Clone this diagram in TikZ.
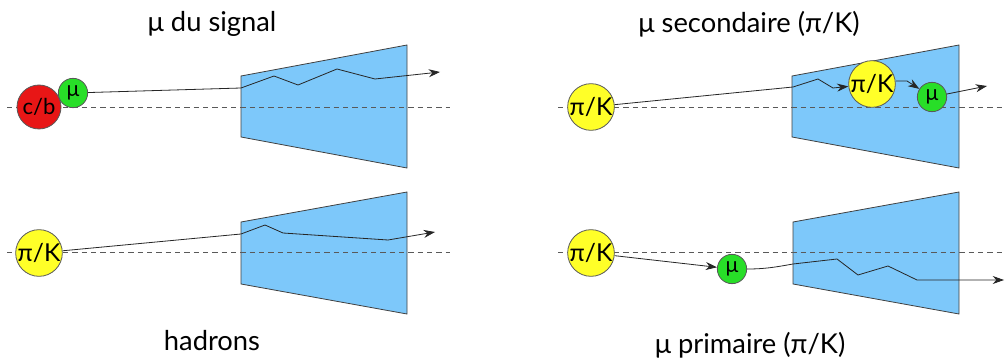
\documentclass[tikz,border=0pt]{standalone}
\usepackage{fontspec}
\setmainfont{Lato}
\usetikzlibrary{arrows.meta}
\definecolor{detblue}{RGB}{125,200,250}
\definecolor{cbred}{RGB}{232,22,22}
\definecolor{mugreen}{RGB}{40,222,40}
\definecolor{pkyellow}{RGB}{255,255,40}
\begin{document}
\begin{tikzpicture}[x=0.75pt,y=-0.75pt,
  det/.style={draw=black!75, fill=detblue, line width=0.6pt},
  axis/.style={draw=black!65, line width=0.6pt, dash pattern=on 4pt off 3pt},
  part/.style={circle, draw=black!65, line width=0.6pt, inner sep=0pt},
  big/.style={part, minimum size=33pt, font=\fontsize{18.5}{20}\selectfont},
  cbstyle/.style={part, minimum size=33pt, font=\fontsize{16.5}{18}\selectfont},
  small/.style={part, minimum size=22pt, font=\fontsize{16}{18}\selectfont},
  trk/.style={draw=black!85, line width=0.6pt, line join=round},
  arr/.style={-{Stealth[length=8.5pt,width=6pt]}},
  title/.style={font=\fontsize{20.5}{24}\selectfont}]
\useasboundingbox (0,0) rectangle (1005,363);
% ---------- panel 1: mu du signal ----------
\node[title] (t1) at (212,24) {μ du signal};
\draw[det] (241,76) -- (407,45) -- (407,168) -- (241,137) -- cycle;
\draw[axis] (7,107) -- (450,107);
\node[cbstyle, fill=cbred] (cb) at (39,107) {c/b};
\node[small, fill=mugreen] (mu1) at (73,93) {μ};
\coordinate (p1a) at (241,88);
\coordinate (p1b) at (274,76);
\coordinate (p1c) at (298,85);
\coordinate (p1d) at (337,69);
\coordinate (p1e) at (375,79);
\coordinate (p1f) at (440,72);
\draw[trk, arr] (mu1) -- (p1a) -- (p1b) -- (p1c) -- (p1d) -- (p1e) -- (p1f);
% ---------- panel 2: mu secondaire ----------
\node[title] (t2) at (749,24) {μ secondaire (π/K)};
\draw[det] (792,76) -- (959,45) -- (959,168) -- (792,137) -- cycle;
\draw[axis] (558,107) -- (1005,107);
\node[big, fill=pkyellow] (pk2) at (591,107) {π/K};
\node[big, fill=pkyellow] (pk2b) at (872,84) {π/K};
\node[small, fill=mugreen] (mu2) at (932,97) {μ};
\coordinate (p2a) at (793,87);
\coordinate (p2b) at (818,79);
\coordinate (p2c) at (833,88);
\coordinate (p2d) at (907,81);
\coordinate (p2e) at (987,86);
\draw[trk, arr] (pk2) -- (p2a) -- (p2b) -- (p2c) -- (pk2b);
\draw[trk, arr] (pk2b.east |- p2d) -- (p2d) -- (mu2);
\draw[trk, arr] (mu2) -- (p2e);
% ---------- panel 3: hadrons ----------
\node[title] (t3) at (212,341) {hadrons};
\draw[det] (241,222) -- (407,192) -- (407,314) -- (241,284) -- cycle;
\draw[axis] (7,252) -- (450,252);
\node[big, fill=pkyellow] (pk3) at (39,253) {π/K};
\coordinate (p3a) at (241,234);
\coordinate (p3b) at (265,225);
\coordinate (p3c) at (283,233);
\coordinate (p3d) at (388,240);
\coordinate (p3e) at (435,232);
\draw[trk, arr] (pk3) -- (p3a) -- (p3b) -- (p3c) -- (p3d) -- (p3e);
% ---------- panel 4: mu primaire ----------
\node[title] (t4) at (750,345) {μ primaire (π/K)};
\draw[det] (793,222) -- (959,192) -- (959,314) -- (793,284) -- cycle;
\draw[axis] (558,252) -- (1005,252);
\node[big, fill=pkyellow] (pk4) at (591,253) {π/K};
\node[small, fill=mugreen] (mu4) at (732,269) {μ};
\coordinate (p4a) at (793,264);
\coordinate (p4b) at (837,259);
\coordinate (p4c) at (858,275);
\coordinate (p4d) at (888,266);
\coordinate (p4e) at (917,280);
\coordinate (p4f) at (1004,280);
\draw[trk, arr] (pk4) -- (mu4);
\draw[trk, arr] (mu4) to[out=0,in=190] (p4a) -- (p4b) -- (p4c) -- (p4d) -- (p4e) -- (p4f);
\end{tikzpicture}
\end{document}
